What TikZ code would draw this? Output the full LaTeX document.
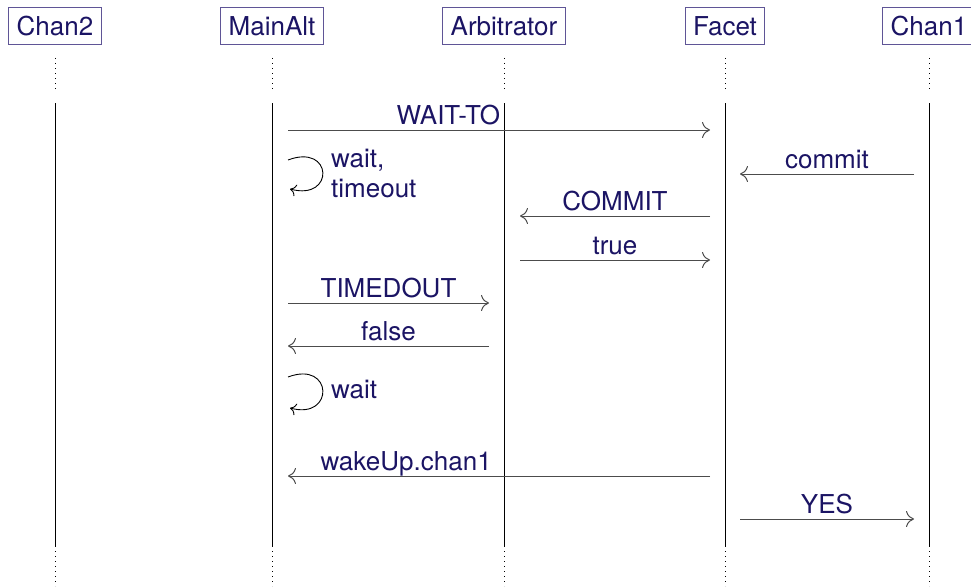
\documentclass[tikz,border=0pt]{standalone}
\usepackage{fontspec}
\setmainfont{TeX Gyre Heros}
\usepackage{xcolor}
\usetikzlibrary{arrows.meta,calc}

\definecolor{umltext}{RGB}{27,20,100}
\definecolor{umlframe}{RGB}{95,85,150}

\tikzset{
  thread/.style={draw=umlframe, line width=1pt, minimum height=37pt, inner xsep=8pt, inner ysep=0pt},
  life/.style={line width=0.9pt, black},
  lifedot/.style={line width=0.9pt, black, dash pattern=on 1pt off 4pt},
  msg/.style={line width=1pt, black!70, -{To[length=8pt,width=16pt]}},
  msglabel/.style={anchor=base, inner sep=0pt, yshift=6pt},
  selfcall/.style={line width=0.9pt, black, -{To[length=6pt,width=12pt]}},
  selflabel/.style={anchor=west, align=left, inner sep=0pt},
}

\begin{document}
\begin{tikzpicture}[x=1pt,y=-1pt,font=\fontsize{26pt}{30pt}\selectfont,every node/.style={text=umltext}]
\useasboundingbox (0,0) rectangle (971,586);

% threads
\node[thread] (chan2) at (55,26) {Chan2};
\node[thread] (mainalt) at (272,26) {MainAlt};
\node[thread] (arbitrator) at (504,26) {Arbitrator};
\node[thread] (facet) at (725,26) {Facet};
\node[thread] (chan1) at (929,26) {Chan1};

% lifelines
\foreach \t in {chan2,mainalt,arbitrator,facet,chan1}{
  \draw[lifedot] (\t |- 0,58) -- (\t |- 0,91);
  \draw[life] (\t |- 0,103) coordinate (\t-top) -- (\t |- 0,546) coordinate (\t-bot);
  \draw[lifedot] (\t-bot) -- (\t |- 0,586);
}

% messages
\draw[msg] ($(mainalt |- 0,130)+(16,0)$) -- node[msglabel,pos=.38] {WAIT-TO} ($(facet |- 0,130)+(-15,0)$);
\draw[selfcall] ($(mainalt |- 0,160)+(16,0)$) .. controls +(45,-17) and +(45,12) .. ($(mainalt |- 0,189)+(18,0)$);
\node[selflabel] (lwait1) at (331,174) {wait,\\timeout};
\draw[msg] ($(chan1 |- 0,174)+(-15,0)$) -- node[msglabel] {commit} ($(facet |- 0,174)+(15,0)$);
\draw[msg] ($(facet |- 0,216)+(-15,0)$) -- node[msglabel] {COMMIT} ($(arbitrator |- 0,216)+(16,0)$);
\draw[msg] ($(arbitrator |- 0,260)+(16,0)$) -- node[msglabel] {true} ($(facet |- 0,260)+(-15,0)$);
\draw[msg] ($(mainalt |- 0,303)+(16,0)$) -- node[msglabel] {TIMEDOUT} ($(arbitrator |- 0,303)+(-15,0)$);
\draw[msg] ($(arbitrator |- 0,346)+(-15,0)$) -- node[msglabel] {false} ($(mainalt |- 0,346)+(16,0)$);
\draw[selfcall] ($(mainalt |- 0,377)+(16,0)$) .. controls +(45,-17) and +(45,12) .. ($(mainalt |- 0,408)+(18,0)$);
\node[selflabel] (lwait2) at (331,389) {wait};
\draw[msg] ($(facet |- 0,476)+(-15,0)$) -- node[msglabel,pos=.72] {wakeUp.chan1} ($(mainalt |- 0,476)+(16,0)$);
\draw[msg] ($(facet |- 0,519)+(15,0)$) -- node[msglabel] {YES} ($(chan1 |- 0,519)+(-15,0)$);
\end{tikzpicture}
\end{document}
